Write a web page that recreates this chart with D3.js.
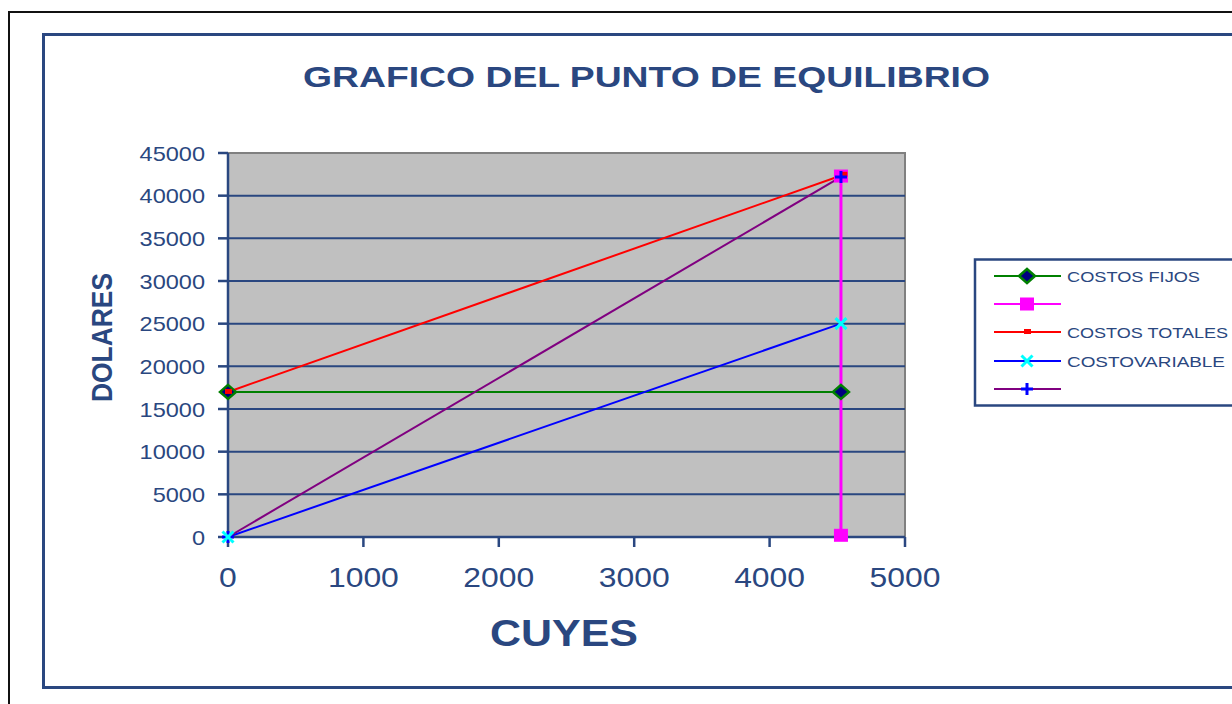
<!DOCTYPE html>
<html><head><meta charset="utf-8">
<script src="https://cdn.jsdelivr.net/npm/d3@7"></script>
<style>body{margin:0;background:#fff}svg{display:block}text{font-family:"Liberation Sans",Arial,sans-serif}</style>
</head><body><svg id="c" width="1232" height="704"></svg>
<script>
// ---- data ----
const chartTitle = "GRAFICO DEL PUNTO DE EQUILIBRIO";
const xTitle = "CUYES";
const yTitle = "DOLARES";
const xTicks = [0, 1000, 2000, 3000, 4000, 5000];
const yTicks = [0, 5000, 10000, 15000, 20000, 25000, 30000, 35000, 40000, 45000];
const seriesNames = ["COSTOS FIJOS", "", "COSTOS TOTALES", "COSTOVARIABLE", ""];
const costosFijosX = [0, 4527];
const costosFijosY = [17000, 17000];
const equilibrioX = [4527, 4527];
const equilibrioY = [200, 42300];
const costosTotalesX = [0, 4545];
const costosTotalesY = [17000, 42450];
const costoVariableX = [0, 4527];
const costoVariableY = [0, 25000];
const ingresosX = [0, 4527];
const ingresosY = [0, 42200];

// ---- layout ----
const svg = d3.select("#c");
const navy = "#2A4780";
const L = 228, R = 905, T = 153, B = 537;
const x = d3.scaleLinear().domain([0, 5000]).range([L, R]);
const y = d3.scaleLinear().domain([0, 45000]).range([B, T]);

svg.append("rect").attr("width", 1232).attr("height", 704).attr("fill", "#fff");
svg.append("path").attr("d", "M9,704 V12 H1232").attr("fill", "none").attr("stroke", "#111").attr("stroke-width", 2);
svg.append("path").attr("d", "M1232,34.5 H43.5 V687.5 H1232").attr("fill", "none").attr("stroke", navy).attr("stroke-width", 3);

function fitText(sel, width) {
  sel.attr("textLength", width).attr("lengthAdjust", "spacingAndGlyphs");
}
function scaledText(g, s, px, py, size, weight, anchor, sx) {
  const t = g.append("text").attr("x", px).attr("y", py).attr("font-size", size)
    .attr("font-weight", weight).attr("fill", navy).text(s);
  const w = t.node().getComputedTextLength() * sx;
  let x0 = px;
  if (anchor === "end") x0 = px - w;
  else if (anchor === "middle") x0 = px - w / 2;
  t.attr("x", x0);
  fitText(t, w);
  return t;
}

// title
const tt = svg.append("text").attr("x", 303).attr("y", 87).attr("font-size", 30).attr("font-weight", "bold").attr("fill", navy).text(chartTitle);
fitText(tt, 687);

// plot area
svg.append("rect").attr("x", L).attr("y", T).attr("width", R - L).attr("height", B - T).attr("fill", "#C0C0C0");
svg.append("path").attr("d", `M${L},${T} H${R} V${B}`).attr("fill", "none").attr("stroke", "#808080").attr("stroke-width", 2);

// gridlines
svg.append("g").selectAll("line").data(yTicks.filter(v => v > 0 && v < 45000)).join("line")
  .attr("x1", L).attr("x2", R).attr("y1", d => y(d)).attr("y2", d => y(d))
  .attr("stroke", navy).attr("stroke-width", 2);

// axes
const axG = svg.append("g");
axG.append("line").attr("x1", L).attr("x2", L).attr("y1", T).attr("y2", B).attr("stroke", navy).attr("stroke-width", 2.5);
axG.append("line").attr("x1", L).attr("x2", R).attr("y1", B).attr("y2", B).attr("stroke", navy).attr("stroke-width", 2.5);
axG.selectAll(".yt").data(yTicks).join("line").attr("class", "yt")
  .attr("x1", L - 10).attr("x2", L).attr("y1", d => y(d)).attr("y2", d => y(d)).attr("stroke", navy).attr("stroke-width", 2.5);
axG.selectAll(".xt").data(xTicks).join("line").attr("class", "xt")
  .attr("x1", d => x(d)).attr("x2", d => x(d)).attr("y1", B).attr("y2", B + 10).attr("stroke", navy).attr("stroke-width", 2.5);

yTicks.forEach(v => scaledText(svg, String(v), 205, y(v) + 7.5, 21, "normal", "end", 1.12));
xTicks.forEach(v => scaledText(svg, String(v), x(v), 587, 27, "normal", "middle", 1.18));

// axis titles
const xt = svg.append("text").attr("x", 490).attr("y", 646).attr("font-size", 36).attr("font-weight", "bold").attr("fill", navy).text(xTitle);
fitText(xt, 148);
const yt = svg.append("text").attr("transform", "translate(112,402) rotate(-90)").attr("font-size", 30).attr("font-weight", "bold").attr("fill", navy).text(yTitle);
fitText(yt, 129);

// series
const series = [
  { name: seriesNames[0], xs: costosFijosX, ys: costosFijosY, color: "#008000", w: 2, marker: "diamond" },
  { name: seriesNames[1], xs: equilibrioX, ys: equilibrioY, color: "#FF00FF", w: 3, marker: "square" },
  { name: seriesNames[2], xs: costosTotalesX, ys: costosTotalesY, color: "#FF0000", w: 2, marker: "dash" },
  { name: seriesNames[3], xs: costoVariableX, ys: costoVariableY, color: "#0000FF", w: 2, marker: "x" },
  { name: seriesNames[4], xs: ingresosX, ys: ingresosY, color: "#800080", w: 2, marker: "plus" }
];
const line = d3.line().x(d => d[0]).y(d => d[1]);
series.forEach(s => {
  const pts = s.xs.map((v, i) => [x(v), y(s.ys[i])]);
  svg.append("path").attr("d", line(pts)).attr("fill", "none").attr("stroke", s.color).attr("stroke-width", s.w);
});

function drawMarker(g, type, cx, cy) {
  if (type === "diamond") {
    g.append("path").attr("d", `M${cx},${cy - 7} L${cx + 8},${cy} L${cx},${cy + 7} L${cx - 8},${cy} Z`)
      .attr("fill", "#000080").attr("stroke", "#008000").attr("stroke-width", 2.5);
  } else if (type === "square") {
    g.append("rect").attr("x", cx - 7).attr("y", cy - 6.5).attr("width", 14).attr("height", 13).attr("fill", "#FF00FF");
  } else if (type === "dash") {
    g.append("rect").attr("x", cx - 3).attr("y", cy - 3).attr("width", 7).attr("height", 5).attr("fill", "#FF0000");
  } else if (type === "x") {
    g.append("path").attr("d", `M${cx - 5.5},${cy - 5.5} L${cx + 5.5},${cy + 5.5} M${cx + 5.5},${cy - 5.5} L${cx - 5.5},${cy + 5.5}`)
      .attr("stroke", "#00FFFF").attr("stroke-width", 3);
  } else if (type === "plus") {
    g.append("path").attr("d", `M${cx - 6},${cy} H${cx + 6} M${cx},${cy - 6} V${cy + 6}`)
      .attr("stroke", "#0000FF").attr("stroke-width", 3);
  }
}
const mg = svg.append("g");
[0, 1, 2, 4, 3].forEach(i => {
  const s = series[i];
  s.xs.forEach((v, j) => drawMarker(mg, s.marker, x(v), y(s.ys[j])));
});

// legend
const lg = svg.append("g");
lg.append("rect").attr("x", 975).attr("y", 259.5).attr("width", 320).attr("height", 146).attr("fill", "#fff").attr("stroke", navy).attr("stroke-width", 2.5);
const rowY = [276, 304, 332, 361, 389];
const legendW = [133, 0, 161, 158, 0];
series.forEach((s, i) => {
  const yy = rowY[i];
  lg.append("line").attr("x1", 994).attr("x2", 1061).attr("y1", yy).attr("y2", yy).attr("stroke", s.color).attr("stroke-width", 2);
  drawMarker(lg, s.marker, 1027, yy);
  if (s.name) {
    const t = lg.append("text").attr("x", 1067).attr("y", yy + 5.5).attr("font-size", 15).attr("fill", navy).text(s.name);
    fitText(t, legendW[i]);
  }
});
</script></body></html>
